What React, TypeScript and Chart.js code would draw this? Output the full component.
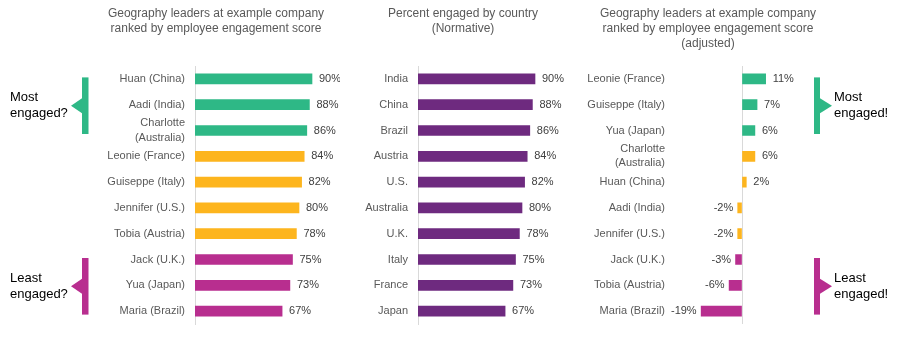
import React, { useEffect, useRef } from 'react';
import { Chart, registerables } from 'chart.js';

Chart.register(...registerables);

const FONT = "'Liberation Sans', Arial, Helvetica, sans-serif";
const GREEN = '#2EB886';
const ORANGE = '#FDB51E';
const MAGENTA = '#B82E8F';
const PURPLE = '#6E2A7F';
const AXIS = '#D9D9D9';
const LABEL = '#595959';
const VALUE = '#404040';

// Panel 1: leaders ranked by raw score
const leaderNames: (string | string[])[] = [
  'Huan (China)', 'Aadi (India)', ['Charlotte', '(Australia)'], 'Leonie (France)', 'Guiseppe (Italy)',
  'Jennifer (U.S.)', 'Tobia (Austria)', 'Jack (U.K.)', 'Yua (Japan)', 'Maria (Brazil)',
];
const leaderScores = [90, 88, 86, 84, 82, 80, 78, 75, 73, 67];
const leaderColors = [GREEN, GREEN, GREEN, ORANGE, ORANGE, ORANGE, ORANGE, MAGENTA, MAGENTA, MAGENTA];

// Panel 2: normative engagement by country
const countries = ['India', 'China', 'Brazil', 'Austria', 'U.S.', 'Australia', 'U.K.', 'Italy', 'France', 'Japan'];
const countryScores = [90, 88, 86, 84, 82, 80, 78, 75, 73, 67];
const countryColors = countries.map(() => PURPLE);

// Panel 3: adjusted scores
const adjustedNames: (string | string[])[] = [
  'Leonie (France)', 'Guiseppe (Italy)', 'Yua (Japan)', ['Charlotte', '(Australia)'], 'Huan (China)',
  'Aadi (India)', 'Jennifer (U.S.)', 'Jack (U.K.)', 'Tobia (Austria)', 'Maria (Brazil)',
];
const adjustedScores = [11, 7, 6, 6, 2, -2, -2, -3, -6, -19];
const adjustedColors = [GREEN, GREEN, GREEN, ORANGE, ORANGE, ORANGE, ORANGE, MAGENTA, MAGENTA, MAGENTA];

const title1 = ['Geography leaders at example company', 'ranked by employee engagement score'];
const title2 = ['Percent engaged by country', '(Normative)'];
const title3 = ['Geography leaders at example company', 'ranked by employee engagement score', '(adjusted)'];

type Bracket = {
  from: number;
  to: number;
  color: string;
  side: 'left' | 'right';
  barX: number;
  barW: number;
  tipX: number;
  textX: number;
  lines: string[];
};

type PanelProps = {
  left: number;
  width: number;
  labels: (string | string[])[];
  values: number[];
  colors: string[];
  min: number;
  max: number;
  yWidth: number;
  tickPad: number;
  padRight: number;
  titleX: number;
  titleLines: string[];
  zeroLine: boolean;
  brackets: Bracket[];
};

const HEIGHT = 363;

function Panel(p: PanelProps) {
  const ref = useRef<HTMLCanvasElement | null>(null);
  useEffect(() => {
    const canvas = ref.current;
    if (!canvas) return;

    const titlePlugin = {
      id: 'panelTitle',
      afterDraw(chart: any) {
        const ctx = chart.ctx;
        ctx.save();
        ctx.font = `12px ${FONT}`;
        ctx.fillStyle = LABEL;
        ctx.textAlign = 'center';
        ctx.textBaseline = 'middle';
        p.titleLines.forEach((line, i) => ctx.fillText(line, p.titleX, 14 + i * 14.7));
        ctx.restore();
      },
    };

    const valuePlugin = {
      id: 'valueLabels',
      afterDatasetsDraw(chart: any) {
        const ctx = chart.ctx;
        const meta = chart.getDatasetMeta(0);
        ctx.save();
        ctx.font = `11px ${FONT}`;
        ctx.fillStyle = VALUE;
        ctx.textBaseline = 'middle';
        meta.data.forEach((bar: any, i: number) => {
          const v = p.values[i];
          if (v >= 0) {
            ctx.textAlign = 'left';
            ctx.fillText(`${v}%`, bar.x + 7, bar.y);
          } else {
            ctx.textAlign = 'right';
            ctx.fillText(`${v}%`, bar.x - 4.5, bar.y);
          }
        });
        ctx.restore();
      },
    };

    const bracketPlugin = {
      id: 'brackets',
      afterDraw(chart: any) {
        const ctx = chart.ctx;
        const y = chart.scales.y;
        ctx.save();
        p.brackets.forEach((b) => {
          const top = y.getPixelForValue(b.from) - 1.5;
          const bottom = y.getPixelForValue(b.to) + 3.5;
          const mid = (top + bottom) / 2;
          ctx.fillStyle = b.color;
          ctx.fillRect(b.barX, top, b.barW, bottom - top);
          const baseX = b.side === 'left' ? b.barX : b.barX + b.barW;
          ctx.beginPath();
          ctx.moveTo(baseX, mid - 7.5);
          ctx.lineTo(b.tipX, mid);
          ctx.lineTo(baseX, mid + 7.5);
          ctx.closePath();
          ctx.fill();
          ctx.fillStyle = '#000000';
          ctx.font = `13px ${FONT}`;
          ctx.textAlign = 'left';
          ctx.textBaseline = 'middle';
          b.lines.forEach((line, i) => ctx.fillText(line, b.textX, mid - 8 + i * 16));
        });
        ctx.restore();
      },
    };

    const chart = new Chart(canvas, {
      type: 'bar',
      data: {
        labels: p.labels as any,
        datasets: [
          {
            data: p.values,
            backgroundColor: p.colors,
            borderWidth: 0,
            barThickness: 10,
          },
        ],
      },
      options: {
        indexAxis: 'y',
        responsive: false,
        animation: false,
        devicePixelRatio: 1,
        layout: { padding: { top: 66, bottom: HEIGHT - 324, left: 0, right: p.padRight } },
        plugins: {
          legend: { display: false },
          tooltip: { enabled: false },
          title: { display: false },
        },
        scales: {
          y: {
            type: 'category',
            offset: true,
            grid: { display: false, drawTicks: false },
            border: { display: !p.zeroLine, color: AXIS, width: 1 },
            ticks: {
              padding: p.tickPad,
              color: LABEL,
              autoSkip: false,
              font: { size: 11, family: FONT, lineHeight: 1.3 },
            },
            afterFit: (scale: any) => {
              scale.width = p.yWidth;
            },
          },
          x: {
            type: 'linear',
            min: p.min,
            max: p.max,
            display: p.zeroLine,
            ticks: { display: false, stepSize: 5 },
            border: { display: false },
            grid: {
              drawTicks: false,
              lineWidth: 1,
              color: (c: any) => (c.tick && c.tick.value === 0 ? AXIS : 'rgba(0,0,0,0)'),
            },
          },
        },
      },
      plugins: [titlePlugin, valuePlugin, bracketPlugin],
    });
    return () => chart.destroy();
  }, []);

  return (
    <div style={{ position: 'absolute', left: p.left, top: 0, width: p.width, height: HEIGHT }}>
      <canvas ref={ref} width={p.width} height={HEIGHT} style={{ display: 'block' }} />
    </div>
  );
}

export default function App() {
  return (
    <div
      style={{
        position: 'fixed',
        left: 0,
        top: 0,
        width: 900,
        height: HEIGHT,
        background: '#ffffff',
        overflow: 'hidden',
      }}
    >
      <Panel
        left={0}
        width={340}
        labels={leaderNames}
        values={leaderScores}
        colors={leaderColors}
        min={0}
        max={100}
        yWidth={195}
        tickPad={10}
        padRight={15}
        titleX={216}
        titleLines={title1}
        zeroLine={false}
        brackets={[
          { from: 0, to: 2, color: GREEN, side: 'left', barX: 82, barW: 6.5, tipX: 71, textX: 10, lines: ['Most', 'engaged?'] },
          { from: 7, to: 9, color: MAGENTA, side: 'left', barX: 82, barW: 6.5, tipX: 71, textX: 10, lines: ['Least', 'engaged?'] },
        ]}
      />
      <Panel
        left={340}
        width={240}
        labels={countries}
        values={countryScores}
        colors={countryColors}
        min={0}
        max={100}
        yWidth={78}
        tickPad={10}
        padRight={32}
        titleX={123}
        titleLines={title2}
        zeroLine={false}
        brackets={[]}
      />
      <Panel
        left={580}
        width={320}
        labels={adjustedNames}
        values={adjustedScores}
        colors={adjustedColors}
        min={-30}
        max={15}
        yWidth={97.5}
        tickPad={12.5}
        padRight={125.75}
        titleX={128}
        titleLines={title3}
        zeroLine={true}
        brackets={[
          { from: 0, to: 2, color: GREEN, side: 'right', barX: 234, barW: 6, tipX: 252, textX: 254, lines: ['Most', 'engaged!'] },
          { from: 7, to: 9, color: MAGENTA, side: 'right', barX: 234, barW: 6, tipX: 252, textX: 254, lines: ['Least', 'engaged!'] },
        ]}
      />
    </div>
  );
}
